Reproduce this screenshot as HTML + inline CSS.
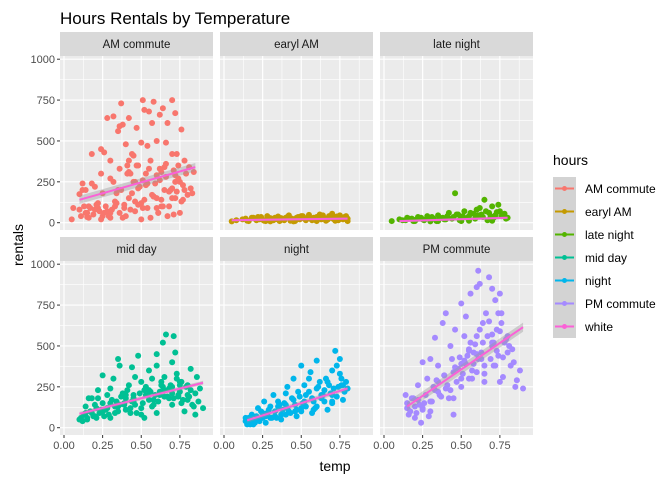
<!DOCTYPE html>
<html><head><meta charset="utf-8"><style>
body{margin:0;background:#fff;}
svg{display:block;font-family:"Liberation Sans",sans-serif;}
</style></head><body>
<svg id="chart" width="672" height="480" viewBox="0 0 672 480">
<text x="60" y="24" font-size="17" fill="#000">Hours Rentals by Temperature</text>
<text x="335" y="471" font-size="14" text-anchor="middle" fill="#000">temp</text>
<text transform="translate(23,245) rotate(-90)" font-size="14" text-anchor="middle" fill="#000">rentals</text>
<g id="panels"></g>
<g id="legend"></g>
</svg>
<script>
const categories=["AM commute","earyl AM","late night","mid day","night","PM commute"];
const colors=["#F8766D","#C49A00","#53B400","#00C094","#00B6EB","#A58AFF"];
const legendLabels=["AM commute","earyl AM","late night","mid day","night","PM commute","white"];
const legendColors=["#F8766D","#C49A00","#53B400","#00C094","#00B6EB","#A58AFF","#FB61D7"];
const xTicks=[0,0.25,0.5,0.75];
const xTickLabels=["0.00","0.25","0.50","0.75"];
const yTicks=[0,250,500,750,1000];
const yTickLabels=["0","250","500","750","1000"];
const amTemp=[0.05,0.06,0.1,0.12,0.14,0.15,0.16,0.18,0.2,0.22,0.24,0.25,0.26,0.28,0.3,0.3,0.32,0.33,0.35,0.36,0.37,0.38,0.4,0.4,0.41,0.42,0.43,0.44,0.45,0.46,0.47,0.48,0.5,0.5,0.51,0.52,0.53,0.54,0.55,0.56,0.57,0.58,0.6,0.6,0.61,0.62,0.63,0.64,0.65,0.66,0.67,0.68,0.7,0.7,0.71,0.72,0.73,0.74,0.75,0.76,0.77,0.78,0.8,0.82,0.84,0.2,0.25,0.3,0.35,0.45,0.5,0.55,0.6,0.65,0.7,0.15,0.22,0.28,0.38,0.42,0.48,0.58,0.62,0.68,0.72,0.33,0.43,0.53,0.63,0.73,
0.1,0.11,0.13,0.14,0.16,0.17,0.19,0.21,0.23,0.24,0.26,0.27,0.29,0.31,0.32,0.34,0.36,0.37,0.39,0.41,0.42,0.44,0.46,0.47,0.49,0.51,0.52,0.54,0.56,0.57,0.59,0.61,0.62,0.64,0.66,0.67,0.69,0.71,0.72,0.74,0.76,0.77,0.79,0.81,0.83,0.12,0.18,0.24,0.3,0.36,0.42,0.48,0.54,0.6,0.66,0.72,0.78,0.34,0.46,0.58,0.7,0.39,0.51,0.63,0.75];
const amRent=[20,90,175,240,200,60,100,420,220,90,450,180,430,640,30,380,650,100,560,590,730,600,40,480,350,640,300,420,410,250,580,110,490,20,750,690,300,470,680,30,610,740,150,500,60,660,310,700,200,490,610,100,420,750,50,670,420,350,250,570,140,380,170,210,310,80,40,60,200,250,120,330,90,340,150,35,120,70,30,310,210,160,260,190,290,130,80,230,100,190,
80,40,100,60,30,90,50,110,70,20,60,100,40,80,250,120,60,200,90,300,150,180,70,350,220,260,140,90,380,170,240,60,330,100,280,40,200,320,150,270,130,230,300,340,180,200,240,300,270,330,380,350,240,290,360,250,200,180,130,160,210,110,90,140,60];
const eaTemp=[0.05,0.08,0.12,0.15,0.18,0.2,0.22,0.25,0.28,0.3,0.32,0.35,0.38,0.4,0.42,0.45,0.48,0.5,0.52,0.55,0.58,0.6,0.62,0.65,0.68,0.7,0.72,0.75,0.78,0.8,0.27,0.43,0.57,0.67,0.77,
0.14,0.16,0.19,0.21,0.23,0.24,0.26,0.29,0.31,0.33,0.34,0.36,0.37,0.39,0.41,0.44,0.46,0.47,0.49,0.51,0.53,0.54,0.56,0.59,0.61,0.63,0.64,0.66,0.69,0.71,0.73,0.74,0.76,0.79,0.8,0.3,0.45,0.6,0.72];
const eaRent=[8,15,20,12,30,25,35,18,40,28,15,38,22,30,45,20,35,40,25,48,30,35,50,28,40,55,30,45,35,25,10,12,15,18,20,
25,10,30,15,20,35,12,25,18,30,22,10,28,15,35,25,10,30,20,40,15,30,25,18,35,20,45,12,30,22,38,15,28,40,10,8,8,10,12];
const lnTemp=[0.05,0.1,0.12,0.15,0.18,0.2,0.22,0.25,0.28,0.3,0.32,0.35,0.38,0.4,0.42,0.45,0.46,0.48,0.5,0.52,0.55,0.58,0.6,0.62,0.63,0.65,0.68,0.7,0.72,0.74,0.75,0.78,0.8,0.35,0.55,0.67,
0.14,0.16,0.19,0.21,0.24,0.26,0.29,0.31,0.34,0.36,0.39,0.41,0.44,0.47,0.49,0.51,0.54,0.56,0.59,0.61,0.64,0.66,0.69,0.71,0.73,0.76,0.79,0.3,0.5,0.7];
const lnRent=[10,20,15,30,25,10,35,20,40,15,25,45,30,20,60,35,180,50,30,70,40,55,80,90,50,140,60,100,45,110,70,55,30,10,12,15,
15,25,10,20,30,15,25,35,10,30,20,40,25,50,15,40,30,60,25,45,35,70,40,30,65,40,25,8,10,12];
const mdTemp=[0.1,0.12,0.14,0.15,0.16,0.18,0.2,0.21,0.22,0.24,0.25,0.26,0.28,0.3,0.3,0.32,0.33,0.35,0.36,0.38,0.39,0.4,0.42,0.43,0.44,0.45,0.46,0.48,0.5,0.5,0.52,0.53,0.55,0.56,0.57,0.58,0.6,0.6,0.62,0.63,0.64,0.65,0.66,0.68,0.7,0.7,0.71,0.72,0.73,0.74,0.75,0.76,0.78,0.8,0.82,0.84,0.86,0.88,0.9,0.2,0.3,0.4,0.5,0.6,0.7,0.8,0.25,0.35,0.45,0.55,0.65,0.75,0.85,
0.11,0.13,0.15,0.17,0.19,0.21,0.23,0.25,0.27,0.29,0.31,0.33,0.35,0.37,0.39,0.41,0.43,0.45,0.47,0.49,0.51,0.53,0.55,0.57,0.59,0.61,0.63,0.65,0.67,0.69,0.71,0.73,0.75,0.77,0.79,0.81,0.83,0.85,0.87,0.14,0.22,0.28,0.34,0.4,0.46,0.52,0.58,0.64,0.7,0.76,0.82,0.18,0.26,0.36,0.44,0.54,0.62,0.68,0.74,0.8];
const mdRent=[50,40,130,60,180,90,140,60,230,110,320,70,200,150,60,300,90,420,380,210,150,110,260,90,370,160,310,440,120,280,60,200,350,220,300,140,380,450,200,260,520,310,570,180,250,400,560,460,330,200,280,150,100,200,360,130,310,240,120,70,240,180,80,90,140,170,100,130,200,230,190,260,80,
60,80,50,100,70,120,90,150,110,80,170,130,100,190,140,230,120,180,90,210,150,250,170,130,200,160,280,230,190,260,180,300,220,170,250,190,140,210,160,90,180,120,160,200,140,230,170,250,210,280,230,180,110,140,160,200,220,240,190,260];
const ntTemp=[0.14,0.15,0.16,0.18,0.2,0.22,0.24,0.25,0.26,0.28,0.3,0.32,0.33,0.35,0.36,0.38,0.4,0.41,0.42,0.44,0.45,0.46,0.48,0.5,0.5,0.52,0.53,0.55,0.56,0.58,0.6,0.6,0.62,0.63,0.65,0.66,0.68,0.7,0.7,0.72,0.73,0.74,0.75,0.76,0.77,0.78,0.8,0.2,0.3,0.4,0.5,0.6,0.7,0.17,0.27,0.37,0.47,0.57,0.67,
0.14,0.15,0.17,0.19,0.21,0.23,0.25,0.27,0.29,0.31,0.33,0.35,0.37,0.39,0.41,0.43,0.45,0.47,0.49,0.51,0.53,0.55,0.57,0.59,0.61,0.63,0.65,0.67,0.69,0.71,0.73,0.75,0.77,0.79,0.16,0.22,0.28,0.34,0.4,0.46,0.52,0.58,0.64,0.7,0.76];
const ntRent=[40,20,60,80,30,120,100,60,160,90,130,200,70,160,140,110,210,250,100,180,300,140,220,380,120,260,200,300,340,160,410,240,280,180,230,300,260,350,200,470,380,250,420,300,170,220,240,40,60,80,100,130,150,20,30,50,70,90,110,
60,30,50,20,70,40,90,70,110,60,100,130,80,150,120,90,170,110,190,150,130,220,180,120,250,200,160,280,210,240,190,330,260,280,30,50,80,60,140,100,160,110,200,160,260];
const pmTemp=[0.14,0.15,0.16,0.18,0.2,0.22,0.24,0.25,0.26,0.28,0.3,0.3,0.32,0.33,0.35,0.36,0.38,0.39,0.4,0.42,0.43,0.44,0.45,0.46,0.48,0.5,0.5,0.52,0.53,0.54,0.55,0.56,0.57,0.58,0.6,0.6,0.61,0.62,0.63,0.64,0.65,0.66,0.68,0.7,0.7,0.71,0.72,0.73,0.74,0.75,0.76,0.77,0.78,0.8,0.82,0.84,0.86,0.88,0.9,0.2,0.25,0.35,0.45,0.55,0.65,0.75,0.85,0.3,0.4,0.5,0.6,0.7,0.8,
0.15,0.17,0.19,0.21,0.23,0.25,0.27,0.29,0.31,0.33,0.35,0.37,0.39,0.41,0.43,0.45,0.47,0.49,0.51,0.53,0.55,0.57,0.59,0.61,0.63,0.65,0.67,0.69,0.71,0.73,0.75,0.77,0.79,0.81,0.83,0.22,0.34,0.46,0.52,0.58,0.64,0.7,0.76,0.56,0.62,0.68,0.74,0.5,0.6,0.72];
const pmRent=[200,120,80,180,60,260,30,400,150,300,420,100,250,550,380,200,640,320,700,180,500,420,80,600,360,760,250,560,680,440,480,820,300,390,860,560,960,880,420,640,280,700,920,500,850,380,780,600,440,820,700,310,520,460,380,400,290,350,240,130,110,220,180,300,330,280,250,160,240,390,450,520,560,
150,100,180,90,140,120,200,70,160,230,280,190,320,260,230,340,280,430,330,390,470,350,510,420,460,380,560,420,520,470,590,430,540,500,480,170,290,370,410,460,520,570,640,520,600,650,700,300,340,380];
const panelTemps=[amTemp,eaTemp,lnTemp,mdTemp,ntTemp,pmTemp];
const panelRents=[amRent,eaRent,lnRent,mdRent,ntRent,pmRent];
const fitX0=[0.1,0.05,0.1,0.1,0.15,0.15];
const fitX1=[0.85,0.8,0.8,0.9,0.8,0.9];
const fitY0=[140,15,10,85,45,130];
const fitY1=[340,25,30,275,240,615];
const bandW=[25,8,8,12,15,28];

const NS="http://www.w3.org/2000/svg";
function el(tag,attrs,parent){const e=document.createElementNS(NS,tag);for(const k in attrs)e.setAttribute(k,attrs[k]);parent.appendChild(e);return e;}
const panelsG=document.getElementById('panels');
const colX=[60,220,380], rowTop=[32,237], PW=153, STRIP=24, PH=174;
const unitX=154.5, unitY=0.1635;
for(let p=0;p<6;p++){
  const c=p%3, r=Math.floor(p/3);
  const px=colX[c], st=rowTop[r], py=st+STRIP;
  const x0=px+4, y0=r===0?222.7:427.7;
  const xs=v=>x0+v*unitX, ys=v=>y0-v*unitY;
  const g=el('g',{},panelsG);
  
  
  const strip=el('rect',{x:px,y:st,width:PW,height:STRIP,fill:'#D9D9D9'},g);
  
  
  const sl=el('text',{x:px+PW/2,y:st+16,'text-anchor':'middle','font-size':'11.5',fill:'#1A1A1A'},g);
  sl.textContent=categories[p];
  
  
  const bg=el('rect',{x:px,y:py,width:PW,height:PH,fill:'#EBEBEB'},g);
  
  
  for(let i=0;i<xTicks.length;i++){const m=xTicks[i]+0.125;if(xs(m)<px+PW)el('line',{x1:xs(m),x2:xs(m),y1:py,y2:py+PH,stroke:'#fff','stroke-width':0.6},g);}
  for(let i=0;i<yTicks.length-1;i++){const m=yTicks[i]+125;el('line',{x1:px,x2:px+PW,y1:ys(m),y2:ys(m),stroke:'#fff','stroke-width':0.6},g);}
  xTicks.forEach(t=>el('line',{x1:xs(t),x2:xs(t),y1:py,y2:py+PH,stroke:'#fff','stroke-width':1.2},g));
  yTicks.forEach(t=>el('line',{x1:px,x2:px+PW,y1:ys(t),y2:ys(t),stroke:'#fff','stroke-width':1.2},g));
  const T=panelTemps[p],R=panelRents[p];
  for(let i=0;i<T.length;i++){
    const pt=el('circle',{cx:xs(T[i]),cy:ys(R[i]),r:3,fill:colors[p]},g);
    
    
  }
  const bw=bandW[p];
  const band=el('polygon',{points:`${xs(fitX0[p])},${ys(fitY0[p]+bw)} ${xs(fitX1[p])},${ys(fitY1[p]+bw)} ${xs(fitX1[p])},${ys(fitY1[p]-bw)} ${xs(fitX0[p])},${ys(fitY0[p]-bw)}`,fill:'#999',opacity:0.4},g);
  
  
  const fl=el('line',{x1:xs(fitX0[p]),y1:ys(fitY0[p]),x2:xs(fitX1[p]),y2:ys(fitY1[p]),stroke:'#FB61D7','stroke-width':2},g);
  
  
  if(c===0){
    yTicks.forEach((t,i)=>{
      el('line',{x1:px-3,x2:px,y1:ys(t),y2:ys(t),stroke:'#333'},g);
      const tl=el('text',{x:px-5,y:ys(t)+4,'text-anchor':'end','font-size':'11',fill:'#4D4D4D'},g);
      tl.textContent=yTickLabels[i];
      
      
    });
  }
  if(r===1){
    xTicks.forEach((t,i)=>{
      el('line',{x1:xs(t),x2:xs(t),y1:py+PH,y2:py+PH+3,stroke:'#333'},g);
      const tl=el('text',{x:xs(t),y:py+PH+14,'text-anchor':'middle','font-size':'11',fill:'#4D4D4D'},g);
      tl.textContent=xTickLabels[i];
      
      
    });
  }
}
const lg=document.getElementById('legend');
const lt=el('text',{x:553,y:165,'font-size':'14',fill:'#000'},lg);
lt.textContent='hours';


legendLabels.forEach((lab,i)=>{
  const y=177+i*23;
  const eg=el('g',{},lg);
  
  
  el('rect',{x:553,y:y,width:23,height:23,fill:'#D3D3D3'},eg);
  el('line',{x1:555,x2:574,y1:y+11.5,y2:y+11.5,stroke:legendColors[i],'stroke-width':2},eg);
  el('circle',{cx:564.5,cy:y+11.5,r:2.5,fill:legendColors[i]},eg);
  const t=el('text',{x:585,y:y+16,'font-size':'12',fill:'#000'},eg);
  t.textContent=lab;
});
</script>
</body></html>
